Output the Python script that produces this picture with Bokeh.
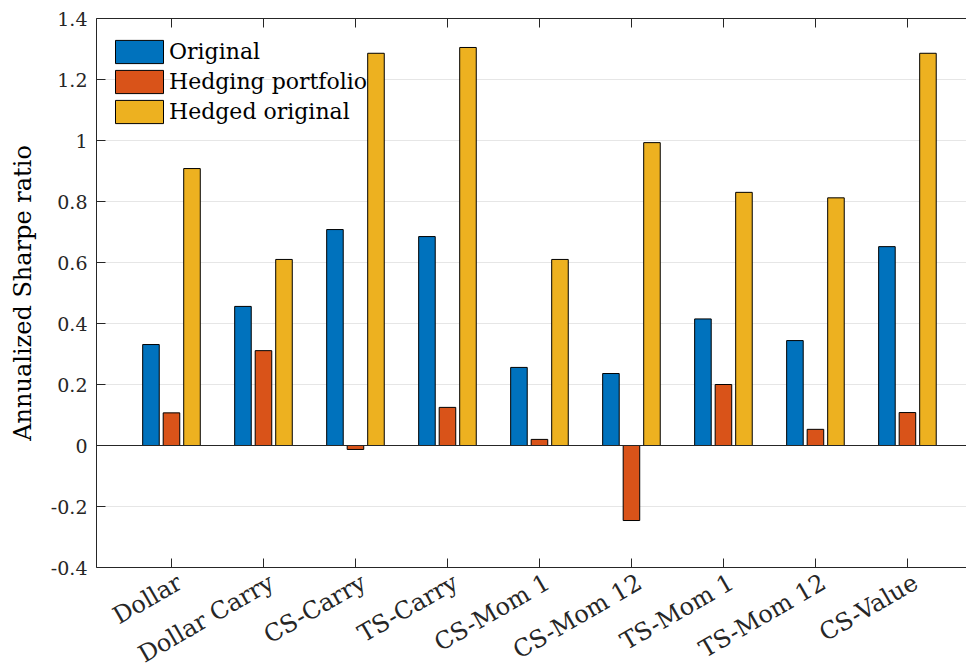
from bokeh.plotting import figure
from bokeh.models import (ColumnDataSource, Range1d, FixedTicker, LinearAxis,
                          CustomJSTickFormatter, Legend, LegendItem, Span)
from bokeh.transform import dodge
from bokeh.embed import file_html
from bokeh.resources import INLINE
import math

categories = ["Dollar", "Dollar Carry", "CS-Carry", "TS-Carry", "CS-Mom 1",
              "CS-Mom 12", "TS-Mom 1", "TS-Mom 12", "CS-Value"]
original = [0.331, 0.456, 0.708, 0.685, 0.256, 0.236, 0.415, 0.344, 0.652]
hedging = [0.107, 0.311, -0.013, 0.125, 0.020, -0.246, 0.200, 0.053, 0.108]
hedged = [0.908, 0.610, 1.286, 1.305, 0.610, 0.993, 0.830, 0.812, 1.286]
series_names = ["Original", "Hedging portfolio", "Hedged original"]
y_ticks = [-0.4, -0.2, 0.0, 0.2, 0.4, 0.6, 0.8, 1.0, 1.2, 1.4]

colors = ["#0072BD", "#D95319", "#EDB120"]
FONT = "DejaVu Serif"
AX = "#262626"

pos = list(range(1, len(categories) + 1))
src = ColumnDataSource(dict(x=pos, original=original, hedging=hedging,
                            hedged=hedged))

p = figure(frame_width=870, frame_height=549, output_backend="svg",
           toolbar_location=None,
           x_range=Range1d(0.185, 9.642), y_range=Range1d(-0.4, 1.4),
           min_border_left=96, min_border_right=0, min_border_top=18,
           min_border_bottom=0)
p.outline_line_color = None
p.background_fill_color = "white"

bw = 0.18
off = 0.223
renderers = []
for col, c, d in zip(["original", "hedging", "hedged"], colors,
                     [-off, 0.0, off]):
    r = p.vbar(x=dodge("x", d), top=col, bottom=0, width=bw, source=src,
               fill_color=c, line_color="black", line_width=1)
    renderers.append(r)

p.add_layout(Span(location=0, dimension="width", line_color=AX,
                  line_width=1.2))

fmt = CustomJSTickFormatter(code="""
    var s = tick.toFixed(1);
    if (s.endsWith('.0')) s = s.slice(0, -2);
    if (s === '-0') s = '0';
    return s;
""")

ya = p.yaxis[0]
ya.ticker = FixedTicker(ticks=y_ticks)
ya.formatter = fmt
ya.axis_label = "Annualized Sharpe ratio"
ya.axis_label_text_font = FONT
ya.axis_label_text_font_style = "normal"
ya.axis_label_text_font_size = "24px"
ya.axis_label_text_color = "black"
ya.axis_label_standoff = 11
ya.major_label_text_font = FONT
ya.major_label_text_font_size = "19px"
ya.major_label_text_color = AX
ya.major_label_standoff = 9
ya.major_tick_in = 9
ya.major_tick_out = 0
ya.minor_tick_line_color = None
ya.axis_line_color = AX
ya.major_tick_line_color = AX

# bottom axis: line and inward ticks only
xa = p.xaxis[0]
xa.ticker = FixedTicker(ticks=pos)
xa.major_label_text_font_size = "1px"
xa.major_label_text_alpha = 0
xa.major_label_standoff = 0
xa.major_tick_in = 9
xa.major_tick_out = 0
xa.minor_tick_line_color = None
xa.axis_line_color = AX
xa.major_tick_line_color = AX

# second bottom axis carrying the rotated category labels
label_shift = 0.09
name_fmt = CustomJSTickFormatter(args=dict(names=categories,
                                           shift=label_shift), code="""
    return names[Math.round(tick - shift) - 1];
""")
la = LinearAxis(ticker=FixedTicker(ticks=[v + label_shift for v in pos]),
                formatter=name_fmt, major_label_orientation=math.pi / 6,
                major_label_text_font=FONT, major_label_text_font_size="24px",
                major_label_text_color=AX, major_label_standoff=13,
                major_tick_in=0, major_tick_out=0, minor_tick_line_color=None,
                axis_line_color=None, major_tick_line_color=None)
p.add_layout(la, "below")

ta = LinearAxis(ticker=FixedTicker(ticks=pos), major_label_text_alpha=0,
                major_label_text_font_size="1px", major_label_standoff=0,
                major_tick_in=9, major_tick_out=0, minor_tick_line_color=None,
                axis_line_color=AX, major_tick_line_color=AX)
p.add_layout(ta, "above")

p.xgrid.grid_line_color = None
p.ygrid.ticker = FixedTicker(ticks=y_ticks)
p.ygrid.grid_line_color = "#e6e6e6"
p.ygrid.grid_line_width = 1

legend = Legend(items=[LegendItem(label=n, renderers=[r])
                       for n, r in zip(series_names, renderers)],
                location=(13, 441))
legend.glyph_width = 60
legend.glyph_height = 29
legend.label_text_font = FONT
legend.label_text_font_size = "22px"
legend.label_text_color = "black"
legend.label_standoff = 0
legend.spacing = 1
legend.padding = 0
legend.margin = 0
legend.border_line_alpha = 0
legend.background_fill_alpha = 0
p.add_layout(legend)

open("out.html", "w").write(file_html(p, INLINE))
